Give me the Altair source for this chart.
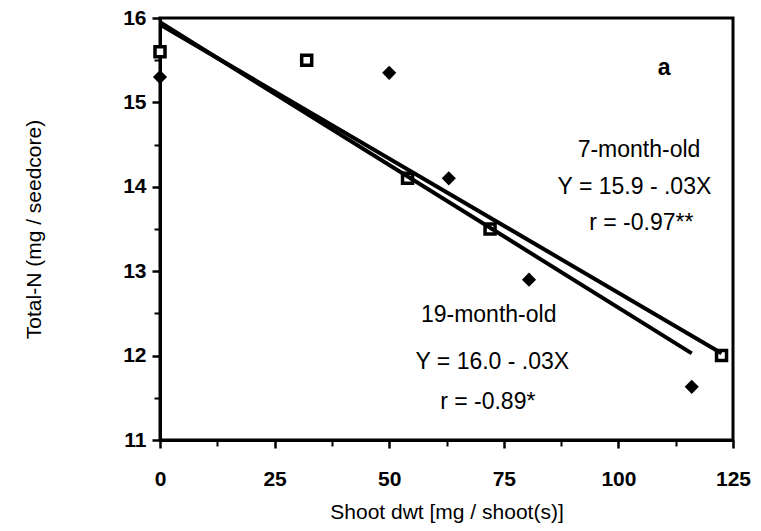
import altair as alt
import pandas as pd

# Shoot dry weight (mg / shoot) and total N (mg / seedcore) per seedling age
x_7 = [0, 32, 54, 72, 122.5]
y_7 = [15.6, 15.5, 14.1, 13.5, 12.0]
x_19 = [0, 50, 63, 80.5, 116]
y_19 = [15.3, 15.35, 14.1, 12.9, 11.63]

ages = ["7-month-old", "19-month-old"]

x_major = [0, 25, 50, 75, 100, 125]
y_major = [11, 12, 13, 14, 15, 16]
x_minor = [12.5, 37.5, 62.5, 87.5, 112.5]
y_minor = [11.5, 12.5, 13.5, 14.5, 15.5]

pts = pd.DataFrame({
    "x": x_7 + x_19,
    "y": y_7 + y_19,
    "age": [ages[0]] * len(x_7) + [ages[1]] * len(x_19),
})

# Annotation text blocks placed in data units
note_text = ["7-month-old", "Y = 15.9 - .03X", "r = -0.97**",
             "19-month-old", "Y = 16.0 - .03X", "r = -0.89*", "a"]
note_x = [104.5, 103.5, 105, 71.7, 72.5, 71.5, 110]
note_y = [14.44, 14.0, 13.57, 12.48, 11.92, 11.45, 15.41]
notes = pd.DataFrame({"label": note_text, "x": note_x, "y": note_y,
                      "bold": [0, 0, 0, 0, 0, 0, 1]})

FONT = "Liberation Sans"
xscale = alt.Scale(domain=[0, 125], nice=False, zero=False)
yscale = alt.Scale(domain=[11, 16], nice=False, zero=False)

xax = alt.Axis(values=x_major, orient="bottom", title="Shoot dwt [mg / shoot(s)]",
               labelFont=FONT, labelFontSize=21, labelFontWeight="bold", labelColor="black",
               labelPadding=20, titleFont=FONT, titleFontSize=21, titleFontWeight="normal",
               titleColor="black", titlePadding=12, tickSize=8, tickWidth=2.5, tickColor="black",
               domainColor="black", domainWidth=3, grid=False, labelFlush=False)
yax = alt.Axis(values=y_major, orient="left", title="Total-N (mg / seedcore)",
               labelFont=FONT, labelFontSize=21, labelFontWeight="bold", labelColor="black",
               labelPadding=6, titleFont=FONT, titleFontSize=21, titleFontWeight="normal",
               titleColor="black", titlePadding=78, tickSize=8, tickWidth=2.5, tickColor="black",
               domainColor="black", domainWidth=3, grid=False, labelFlush=False)

# Minor ticks at half intervals, drawn as a second unlabelled axis on each side
minor_x = alt.Axis(values=x_minor, orient="bottom", labels=False, title=None,
                   tickSize=6, tickWidth=2, tickColor="black", domain=False, grid=False)
minor_y = alt.Axis(values=y_minor, orient="left", labels=False, title=None,
                   tickSize=6, tickWidth=2, tickColor="black", domain=False, grid=False)

base = alt.Chart(pts)

squares = base.transform_filter(alt.datum.age == ages[0]).mark_point(
    shape="square", size=100, filled=True, fill="white", stroke="black", strokeWidth=3.5, opacity=1
).encode(x=alt.X("x:Q", scale=xscale, axis=xax), y=alt.Y("y:Q", scale=yscale, axis=yax))

diamonds = base.transform_filter(alt.datum.age == ages[1]).mark_point(
    shape="diamond", size=200, filled=True, color="black", opacity=1
).encode(x=alt.X("x:Q", scale=xscale, axis=None), y=alt.Y("y:Q", scale=yscale, axis=None))

fit7 = base.transform_filter(alt.datum.age == ages[0]).transform_regression(
    "x", "y", extent=[0, 122.5]
).mark_line(color="black", strokeWidth=4).encode(
    x=alt.X("x:Q", scale=xscale, axis=None), y=alt.Y("y:Q", scale=yscale, axis=None))

fit19 = base.transform_filter(alt.datum.age == ages[1]).transform_regression(
    "x", "y", extent=[0, 116]
).mark_line(color="black", strokeWidth=4).encode(
    x=alt.X("x:Q", scale=xscale, axis=None), y=alt.Y("y:Q", scale=yscale, axis=None))

text_plain = alt.Chart(notes).transform_filter(alt.datum.bold == 0).mark_text(
    font=FONT, fontSize=23, color="black", align="center", baseline="middle"
).encode(x=alt.X("x:Q", scale=xscale, axis=None), y=alt.Y("y:Q", scale=yscale, axis=None),
         text="label:N")

text_bold = alt.Chart(notes).transform_filter(alt.datum.bold == 1).mark_text(
    font=FONT, fontSize=23, fontWeight="bold", color="black", align="center", baseline="middle"
).encode(x=alt.X("x:Q", scale=xscale, axis=None), y=alt.Y("y:Q", scale=yscale, axis=None),
         text="label:N")

minor = alt.Chart(pts.head(1)).mark_point(opacity=0).encode(
    x=alt.X("x:Q", scale=xscale, axis=minor_x),
    y=alt.Y("y:Q", scale=yscale, axis=minor_y),
)

chart = alt.layer(
    squares, diamonds, fit7, fit19, text_plain, text_bold, minor
).resolve_axis(x="independent", y="independent").properties(
    width=573, height=422,
    background="white",
    autosize=alt.AutoSizeParams(type="none"),
    padding={"left": 160, "top": 18, "right": 28, "bottom": 91},
).configure_view(stroke="black", strokeWidth=3)

chart.save("out.html", embed_options={"renderer": "svg", "actions": False})
